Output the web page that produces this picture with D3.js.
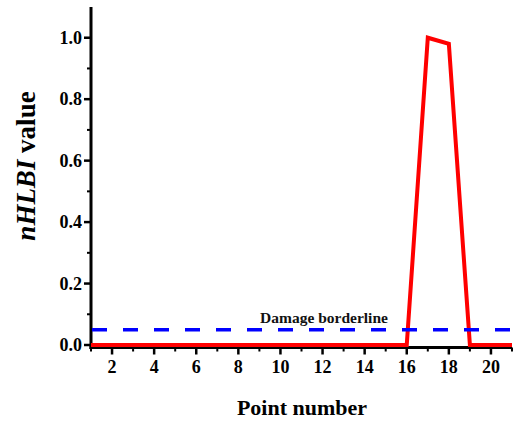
<!DOCTYPE html>
<html>
<head>
<meta charset="utf-8">
<script src="https://cdn.jsdelivr.net/npm/d3@7"></script>
<style>
  body { margin: 0; background: #fff; }
  text { font-family: "Liberation Serif", "Times New Roman", serif; font-weight: bold; }
</style>
</head>
<body>
<div id="chart"></div>
<script>
// data
var points = [1, 2, 3, 4, 5, 6, 7, 8, 9, 10, 11, 12, 13, 14, 15, 16, 17, 18, 19, 20, 21];
var nhlbi = [0, 0, 0, 0, 0, 0, 0, 0, 0, 0, 0, 0, 0, 0, 0, 0, 1.0, 0.98, 0, 0, 0];
var borderline = 0.05;
var xTicks = [2, 4, 6, 8, 10, 12, 14, 16, 18, 20];
var yTicks = [0, 0.2, 0.4, 0.6, 0.8, 1.0];

var width = 513, height = 425;
var pLeft = 91, pRight = 512, pTop = 7, pBottom = 345;

var svg = d3.select("#chart").append("svg")
  .attr("width", width)
  .attr("height", height);

var x = d3.scaleLinear().domain([1, 21]).range([pLeft, pRight]);
var y = d3.scaleLinear().domain([0, 1.1]).range([pBottom, pTop]);

var data = points.map(function(p, i) { return {x: p, y: nhlbi[i]}; });

// x axis (sits a bit below the zero line)
var axisY = pBottom + 2.5;
var xAxis = svg.append("g").attr("transform", "translate(0," + axisY + ")");
xAxis.append("line")
  .attr("x1", pLeft - 1.5).attr("x2", pRight)
  .attr("stroke", "#000").attr("stroke-width", 3);
xAxis.selectAll(".minor").data(d3.range(1, 22, 2)).enter().append("line")
  .attr("x1", d => x(d)).attr("x2", d => x(d))
  .attr("y1", 0).attr("y2", 4)
  .attr("stroke", "#000").attr("stroke-width", 2);
xAxis.selectAll(".major").data(xTicks).enter().append("line")
  .attr("x1", d => x(d)).attr("x2", d => x(d))
  .attr("y1", 0).attr("y2", 7)
  .attr("stroke", "#000").attr("stroke-width", 2.5);
xAxis.selectAll(".lab").data(xTicks).enter().append("text")
  .attr("x", d => x(d)).attr("y", 25)
  .attr("text-anchor", "middle")
  .attr("font-size", 18)
  .text(d => d);

// y axis
var yAxis = svg.append("g").attr("transform", "translate(" + pLeft + ",0)");
yAxis.append("line")
  .attr("y1", pTop).attr("y2", axisY + 1.5)
  .attr("stroke", "#000").attr("stroke-width", 3);
yAxis.selectAll(".minor").data(d3.range(0.1, 1.1, 0.2)).enter().append("line")
  .attr("y1", d => y(d)).attr("y2", d => y(d))
  .attr("x1", 0).attr("x2", -4)
  .attr("stroke", "#000").attr("stroke-width", 2);
yAxis.selectAll(".major").data(yTicks).enter().append("line")
  .attr("y1", d => y(d)).attr("y2", d => y(d))
  .attr("x1", 0).attr("x2", -7)
  .attr("stroke", "#000").attr("stroke-width", 2.5);
yAxis.selectAll(".lab").data(yTicks).enter().append("text")
  .attr("x", -9).attr("y", d => y(d))
  .attr("dy", "0.35em")
  .attr("text-anchor", "end")
  .attr("font-size", 18)
  .text(d => d.toFixed(1));

// data line
var line = d3.line()
  .x(function(d) { return x(d.x); })
  .y(function(d) { return y(d.y); });

svg.append("path")
  .datum(data)
  .attr("d", line)
  .attr("fill", "none")
  .attr("stroke", "#ff0000")
  .attr("stroke-width", 4)
  .attr("stroke-linejoin", "miter");

// borderline
svg.append("line")
  .attr("x1", x(1) + 1).attr("x2", x(21))
  .attr("y1", y(borderline)).attr("y2", y(borderline))
  .attr("stroke", "#0000ff")
  .attr("stroke-width", 3.5)
  .attr("stroke-dasharray", "15,16");

svg.append("text")
  .attr("x", 324).attr("y", 323)
  .attr("text-anchor", "middle")
  .attr("font-size", 15.5)
  .attr("fill", "#111")
  .text("Damage borderline");

// axis titles
svg.append("text")
  .attr("x", 302).attr("y", 415)
  .attr("text-anchor", "middle")
  .attr("font-size", 22)
  .text("Point number");

var yt = svg.append("text")
  .attr("transform", "translate(35,166) rotate(-90)")
  .attr("text-anchor", "middle")
  .attr("font-size", 27);
yt.append("tspan").attr("font-style", "italic").text("nHLBI");
yt.append("tspan").text(" value");
</script>
</body>
</html>
